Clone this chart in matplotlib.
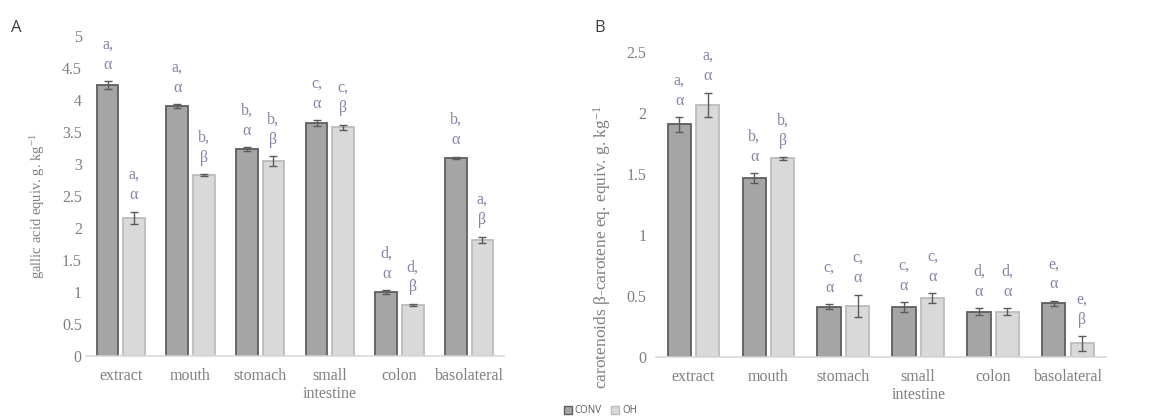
import matplotlib
matplotlib.use('Agg')
import matplotlib.pyplot as plt
from matplotlib.patches import Patch
import numpy as np

stages = ['extract', 'mouth', 'stomach', 'small\nintestine', 'colon', 'basolateral']

# panel A: total phenolics
phen_conv = [4.23, 3.90, 3.23, 3.63, 0.99, 3.09]
phen_conv_err = [0.06, 0.03, 0.03, 0.05, 0.03, 0.02]
phen_oh = [2.15, 2.82, 3.04, 3.57, 0.79, 1.81]
phen_oh_err = [0.10, 0.01, 0.08, 0.04, 0.02, 0.05]
phen_conv_lbl = ['a,\nα', 'a,\nα', 'b,\nα', 'c,\nα', 'd,\nα', 'b,\nα']
phen_oh_lbl = ['a,\nα', 'b,\nβ', 'b,\nβ', 'c,\nβ', 'd,\nβ', 'a,\nβ']

# panel B: carotenoids
car_conv = [1.91, 1.47, 0.41, 0.41, 0.37, 0.44]
car_conv_err = [0.06, 0.04, 0.02, 0.04, 0.03, 0.02]
car_oh = [2.07, 1.63, 0.42, 0.48, 0.37, 0.11]
car_oh_err = [0.10, 0.01, 0.09, 0.04, 0.03, 0.06]
car_conv_lbl = ['a,\nα', 'b,\nα', 'c,\nα', 'c,\nα', 'd,\nα', 'e,\nα']
car_oh_lbl = ['a,\nα', 'b,\nβ', 'c,\nα', 'c,\nα', 'd,\nα', 'e,\nβ']

SERIF = 'Liberation Serif'
TICK_COL = '#7f7f7f'
LBL_COL = '#8585aa'
CONV_FILL, CONV_EDGE = '#a5a5a5', '#5e5e5e'
OH_FILL, OH_EDGE = '#d9d9d9', '#bcbcbc'

plt.rcParams['mathtext.fontset'] = 'custom'
plt.rcParams['mathtext.rm'] = SERIF
plt.rcParams['mathtext.it'] = SERIF
plt.rcParams['mathtext.default'] = 'rm'

fig = plt.figure(figsize=(11.57, 4.2), dpi=100)
axA = fig.add_axes([0.0743, 0.1533, 0.3613, 0.762])
axB = fig.add_axes([0.567, 0.1507, 0.3885, 0.7245])


def draw_panel(ax, conv, conv_err, oh, oh_err, conv_lbl, oh_lbl, ymax, step):
    x = np.arange(len(stages))
    w, off = 0.31, 0.19
    ax.bar(x - off, conv, w, color=CONV_FILL, edgecolor=CONV_EDGE, linewidth=1.3)
    ax.bar(x + off, oh, w, color=OH_FILL, edgecolor=OH_EDGE, linewidth=1.3)
    ax.errorbar(x - off, conv, yerr=conv_err, fmt='none', ecolor='#5a5a5a',
                elinewidth=1, capsize=3, capthick=1)
    ax.errorbar(x + off, oh, yerr=oh_err, fmt='none', ecolor='#5a5a5a',
                elinewidth=1, capsize=3, capthick=1)
    for xs, vals, errs, lbls in [(x - off, conv, conv_err, conv_lbl),
                                 (x + off, oh, oh_err, oh_lbl)]:
        for xi, v, e, t in zip(xs, vals, errs, lbls):
            ax.annotate(t, (xi, v + e), xytext=(0, 6), textcoords='offset points',
                        ha='center', va='bottom', fontsize=11.5, color=LBL_COL,
                        family=SERIF, linespacing=1.35, annotation_clip=False)
    ax.set_xlim(-0.5, len(stages) - 0.5)
    ax.set_ylim(0, ymax)
    ticks = np.arange(0, ymax + step / 2, step)
    ax.set_yticks(ticks)
    ax.set_yticklabels(['%g' % v for v in ticks],
                       family=SERIF, fontsize=11.5, color=TICK_COL)
    ax.set_xticks(x)
    ax.set_xticklabels(stages, family=SERIF, fontsize=11.5, color=TICK_COL,
                       linespacing=1.15)
    ax.tick_params(axis='both', length=0)
    ax.tick_params(axis='x', pad=9)
    for s in ['left', 'top', 'right']:
        ax.spines[s].set_visible(False)
    ax.spines['bottom'].set_color('#d9d9d9')
    ax.spines['bottom'].set_linewidth(1.2)


draw_panel(axA, phen_conv, phen_conv_err, phen_oh, phen_oh_err,
           phen_conv_lbl, phen_oh_lbl, 5, 0.5)
axA.tick_params(axis='y', pad=3)
axA.set_ylabel('gallic acid equiv. g. kg$^{-1}$', family=SERIF, fontsize=10.5,
               color=TICK_COL)
axA.yaxis.set_label_coords(-0.093, 0.467)

draw_panel(axB, car_conv, car_conv_err, car_oh, car_oh_err,
           car_conv_lbl, car_oh_lbl, 2.5, 0.5)
axB.tick_params(axis='y', pad=7)
axB.set_ylabel('carotenoids β-carotene eq. equiv. g. kg$^{-1}$', family=SERIF,
               fontsize=12.5, color=TICK_COL)
axB.yaxis.set_label_coords(-0.096, 0.36)

fig.text(0.0095, 0.925, 'A', fontsize=12, color='#404040', family='Open Sans')
fig.text(0.514, 0.925, 'B', fontsize=12, color='#404040', family='Open Sans')

handles = [Patch(facecolor=CONV_FILL, edgecolor=CONV_EDGE, label='CONV'),
           Patch(facecolor=OH_FILL, edgecolor=OH_EDGE, label='OH')]
fig.legend(handles=handles, loc='lower center', bbox_to_anchor=(0.519, -0.012),
           ncol=2, frameon=False, prop={'family': 'Open Sans', 'size': 7},
           handlelength=0.8, handleheight=0.8, handletextpad=0.3,
           columnspacing=1.0, labelcolor='#595959')

fig.savefig('out.png', dpi=100)
